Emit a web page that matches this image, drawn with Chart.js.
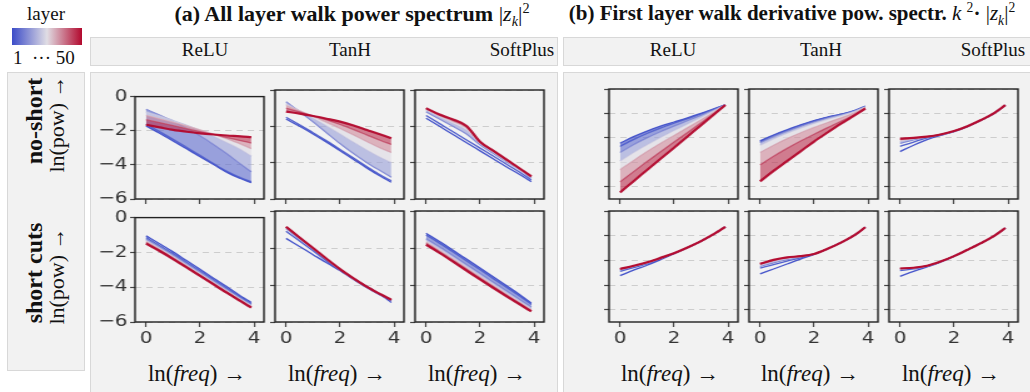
<!DOCTYPE html>
<html>
<head>
<meta charset="utf-8">
<script src="https://cdn.jsdelivr.net/npm/chart.js@4.4.1/dist/chart.umd.min.js"></script>
<style>
  body { margin: 0; background: #fff; }
  #fig { position: relative; width: 1030px; height: 392px; overflow: hidden; font-family: "Liberation Serif", "Times New Roman", serif; color: #111; }
  .box { position: absolute; background: #f2f2f2; border: 1px solid #d8d8d8; box-sizing: border-box; }
  .txt { position: absolute; white-space: nowrap; line-height: 1; }
  .ctr { transform: translateX(-50%); }
  .rot { transform: translate(-50%, -50%) rotate(-90deg); }
  sub, sup { font-size: 65%; line-height: 0; }
  canvas { position: absolute; }
</style>
</head>
<body>
<div id="fig">
  <div class="txt ctr" style="left:46px; top:4px; font-size:19px;">layer</div>
  <div style="position:absolute; left:12px; top:28px; width:70px; height:17px; background:linear-gradient(to right, rgb(60,76,200), rgb(224,221,228), rgb(178,8,45));"></div>
  <div class="txt" style="left:13px; top:48px; font-size:19px;">1 &nbsp;··· 50</div>

  <div class="txt ctr" style="left:352px; top:3px; font-size:22px;"><b>(a) All layer walk power spectrum</b> |<i>z<sub>k</sub></i>|<sup>2</sup></div>
  <div class="txt ctr" style="left:792px; top:3px; font-size:21px;"><b>(b) First layer walk derivative pow. spectr.</b> <i>k</i> <sup>2</sup><b>·</b> |<i>z<sub>k</sub></i>|<sup>2</sup></div>

  <div class="box" style="left:90px; top:37px; width:468px; height:29px;"></div>
  <div class="box" style="left:563px; top:37px; width:470px; height:29px;"></div>
  <div class="box" style="left:90px; top:72px; width:468px; height:330px;"></div>
  <div class="box" style="left:563px; top:72px; width:470px; height:330px;"></div>
  <div class="box" style="left:7px; top:72px; width:78px; height:299px;"></div>

  <div id="labels"></div>
</div>
<script>
// ln(freq) sample positions shared by every curve
const lnFreq = [0, 0.5, 1, 1.5, 2, 2.5, 3, 3.5, 3.9];
// layers drawn (1 ... 50)
const layerIds = [1, 3, 10, 20, 30, 40, 50];
const activations = ['ReLU', 'TanH', 'SoftPlus'];
const rowNames = ['no-short', 'short cuts'];
const xTicks = [0, 2, 4];
const yTicksPow = [0, -2, -4, -6];
const yTicksDeriv = [0, -1, -2, -3, -4];

// (a) power spectrum, no short cuts; one row per layer in layerIds
const powNoShortReLU = [
  [-1.72, -2.15, -2.60, -3.06, -3.52, -3.98, -4.44, -4.80, -5.05],
  [-1.60, -2.05, -2.50, -2.97, -3.44, -3.92, -4.38, -4.75, -4.98],
  [-0.75, -1.08, -1.45, -1.85, -2.30, -2.80, -3.35, -3.95, -4.40],
  [-0.90, -1.13, -1.40, -1.68, -1.98, -2.32, -2.70, -3.10, -3.50],
  [-1.10, -1.30, -1.50, -1.72, -1.95, -2.20, -2.48, -2.78, -3.05],
  [-1.35, -1.52, -1.70, -1.88, -2.05, -2.22, -2.40, -2.58, -2.72],
  [-1.65, -1.80, -1.95, -2.06, -2.15, -2.22, -2.28, -2.33, -2.38]
];
const powNoShortTanH = [
  [-1.60, -2.00, -2.42, -2.87, -3.34, -3.82, -4.30, -4.75, -5.08],
  [-1.50, -1.92, -2.35, -2.80, -3.27, -3.75, -4.22, -4.68, -5.00],
  [-0.65, -1.20, -1.75, -2.35, -2.95, -3.50, -4.00, -4.45, -4.80],
  [-0.75, -1.15, -1.55, -1.98, -2.42, -2.88, -3.32, -3.72, -4.00],
  [-0.85, -1.15, -1.45, -1.78, -2.12, -2.48, -2.85, -3.20, -3.45],
  [-1.00, -1.20, -1.42, -1.65, -1.90, -2.18, -2.48, -2.78, -3.00],
  [-1.19, -1.30, -1.43, -1.58, -1.74, -1.95, -2.20, -2.45, -2.66]
];
const powNoShortSoftPlus = [
  [-1.55, -2.00, -2.45, -2.90, -3.35, -3.80, -4.25, -4.68, -5.05],
  [-1.40, -1.85, -2.30, -2.75, -3.20, -3.65, -4.10, -4.55, -4.95],
  [-1.20, -1.60, -2.00, -2.42, -3.02, -3.50, -3.97, -4.42, -4.85],
  [-1.10, -1.48, -1.85, -2.22, -2.93, -3.42, -3.92, -4.39, -4.80],
  [-1.05, -1.42, -1.74, -2.10, -2.89, -3.38, -3.89, -4.37, -4.78],
  [-1.02, -1.38, -1.67, -2.03, -2.86, -3.36, -3.87, -4.36, -4.76],
  [-1.00, -1.35, -1.62, -1.98, -2.85, -3.35, -3.85, -4.35, -4.75]
];
// (a) power spectrum, with short cuts
const powShortReLU = [
  [-1.05, -1.50, -1.97, -2.47, -2.97, -3.48, -3.98, -4.50, -4.88],
  [-1.15, -1.60, -2.07, -2.56, -3.06, -3.56, -4.06, -4.56, -4.95],
  [-1.25, -1.70, -2.17, -2.66, -3.16, -3.66, -4.16, -4.64, -5.00],
  [-1.32, -1.76, -2.23, -2.72, -3.22, -3.72, -4.21, -4.69, -5.06],
  [-1.38, -1.82, -2.28, -2.77, -3.27, -3.76, -4.25, -4.73, -5.10],
  [-1.44, -1.87, -2.33, -2.82, -3.31, -3.80, -4.29, -4.77, -5.14],
  [-1.50, -1.92, -2.38, -2.86, -3.35, -3.84, -4.33, -4.80, -5.18]
];
const powShortTanH = [
  [-1.48, -1.92, -2.36, -2.80, -3.22, -3.65, -4.08, -4.52, -4.95],
  [-1.10, -1.62, -2.15, -2.70, -3.22, -3.70, -4.15, -4.55, -4.85],
  [-0.95, -1.50, -2.06, -2.63, -3.18, -3.67, -4.12, -4.52, -4.82],
  [-0.90, -1.46, -2.03, -2.61, -3.16, -3.66, -4.11, -4.51, -4.81],
  [-0.88, -1.45, -2.02, -2.60, -3.15, -3.65, -4.10, -4.50, -4.80],
  [-0.86, -1.44, -2.01, -2.59, -3.15, -3.65, -4.10, -4.50, -4.80],
  [-0.85, -1.43, -2.00, -2.58, -3.14, -3.64, -4.10, -4.50, -4.80]
];
const powShortSoftPlus = [
  [-1.20, -1.65, -2.12, -2.60, -3.08, -3.57, -4.06, -4.55, -4.98],
  [-1.30, -1.75, -2.22, -2.70, -3.18, -3.67, -4.15, -4.63, -5.05],
  [-1.50, -1.95, -2.42, -2.90, -3.38, -3.86, -4.34, -4.82, -5.20],
  [-1.60, -2.05, -2.52, -3.00, -3.48, -3.96, -4.44, -4.90, -5.28],
  [-1.68, -2.13, -2.60, -3.08, -3.56, -4.04, -4.51, -4.97, -5.34],
  [-1.75, -2.20, -2.67, -3.15, -3.63, -4.10, -4.57, -5.02, -5.39],
  [-1.82, -2.27, -2.74, -3.22, -3.70, -4.17, -4.63, -5.08, -5.43]
];
// (b) derivative power spectrum, no short cuts
const derivNoShortReLU = [
  [-2.22, -1.95, -1.72, -1.52, -1.35, -1.18, -1.00, -0.80, -0.65],
  [-2.35, -2.07, -1.82, -1.60, -1.40, -1.21, -1.02, -0.81, -0.65],
  [-2.60, -2.28, -2.00, -1.75, -1.52, -1.30, -1.08, -0.85, -0.66],
  [-2.95, -2.60, -2.28, -1.98, -1.70, -1.43, -1.16, -0.88, -0.66],
  [-3.30, -2.92, -2.56, -2.22, -1.90, -1.58, -1.26, -0.93, -0.66],
  [-3.80, -3.38, -2.97, -2.57, -2.17, -1.78, -1.38, -0.98, -0.65],
  [-4.23, -3.77, -3.31, -2.85, -2.40, -1.94, -1.48, -1.02, -0.65]
];
const derivNoShortTanH = [
  [-2.12, -1.88, -1.67, -1.47, -1.29, -1.15, -1.03, -0.88, -0.70],
  [-2.15, -1.91, -1.69, -1.49, -1.31, -1.16, -1.04, -0.88, -0.71],
  [-2.20, -1.95, -1.73, -1.53, -1.35, -1.19, -1.06, -0.90, -0.72],
  [-2.30, -2.04, -1.81, -1.60, -1.41, -1.24, -1.09, -0.92, -0.73],
  [-2.60, -2.30, -2.03, -1.79, -1.57, -1.37, -1.18, -0.97, -0.75],
  [-3.10, -2.75, -2.43, -2.13, -1.85, -1.58, -1.32, -1.04, -0.78],
  [-3.78, -3.35, -2.95, -2.55, -2.15, -1.78, -1.42, -1.08, -0.80]
];
const derivNoShortSoftPlus = [
  [-2.56, -2.30, -2.07, -1.90, -1.74, -1.54, -1.28, -0.99, -0.66],
  [-2.35, -2.17, -2.00, -1.88, -1.73, -1.53, -1.28, -0.98, -0.66],
  [-2.22, -2.08, -1.97, -1.87, -1.72, -1.52, -1.27, -0.98, -0.66],
  [-2.15, -2.04, -1.96, -1.87, -1.72, -1.52, -1.27, -0.98, -0.66],
  [-2.10, -2.02, -1.95, -1.86, -1.72, -1.52, -1.27, -0.98, -0.66],
  [-2.06, -2.01, -1.95, -1.86, -1.72, -1.52, -1.27, -0.98, -0.66],
  [-2.03, -2.00, -1.95, -1.86, -1.72, -1.52, -1.27, -0.98, -0.66]
];
// (b) derivative power spectrum, with short cuts
const derivShortReLU = [
  [-2.62, -2.40, -2.20, -1.97, -1.73, -1.49, -1.22, -0.92, -0.64],
  [-2.45, -2.30, -2.14, -1.94, -1.72, -1.48, -1.22, -0.92, -0.64],
  [-2.40, -2.26, -2.11, -1.92, -1.71, -1.48, -1.22, -0.92, -0.64],
  [-2.38, -2.24, -2.10, -1.91, -1.71, -1.48, -1.22, -0.92, -0.64],
  [-2.37, -2.23, -2.09, -1.91, -1.71, -1.48, -1.22, -0.92, -0.64],
  [-2.36, -2.23, -2.09, -1.90, -1.71, -1.48, -1.22, -0.92, -0.64],
  [-2.35, -2.22, -2.08, -1.90, -1.71, -1.48, -1.22, -0.92, -0.64]
];
const derivShortTanH = [
  [-2.55, -2.35, -2.15, -1.95, -1.76, -1.54, -1.28, -0.98, -0.66],
  [-2.32, -2.17, -2.03, -1.90, -1.75, -1.53, -1.28, -0.98, -0.66],
  [-2.25, -2.10, -1.97, -1.87, -1.75, -1.53, -1.28, -0.98, -0.66],
  [-2.20, -2.04, -1.93, -1.85, -1.74, -1.53, -1.28, -0.98, -0.66],
  [-2.17, -2.01, -1.90, -1.84, -1.74, -1.53, -1.28, -0.98, -0.66],
  [-2.15, -1.99, -1.89, -1.83, -1.74, -1.53, -1.28, -0.98, -0.66],
  [-2.14, -1.98, -1.88, -1.83, -1.74, -1.53, -1.28, -0.98, -0.66]
];
const derivShortSoftPlus = [
  [-2.65, -2.45, -2.27, -2.07, -1.84, -1.57, -1.30, -1.00, -0.69],
  [-2.42, -2.35, -2.25, -2.06, -1.83, -1.57, -1.30, -1.00, -0.69],
  [-2.36, -2.32, -2.23, -2.05, -1.83, -1.57, -1.30, -1.00, -0.69],
  [-2.35, -2.31, -2.22, -2.05, -1.83, -1.57, -1.30, -1.00, -0.69],
  [-2.34, -2.30, -2.22, -2.05, -1.83, -1.57, -1.30, -1.00, -0.69],
  [-2.33, -2.30, -2.22, -2.05, -1.83, -1.57, -1.30, -1.00, -0.69],
  [-2.33, -2.30, -2.22, -2.05, -1.83, -1.57, -1.30, -1.00, -0.69]
];

// the panel pictures in the reference are stretched sideways
const S = 1.25;
const fig = document.getElementById('fig');

const panels = [
  {data: powNoShortReLU, l: 135, t: 90, h: 109, row: 0, grp: 'a', fillFrom: 1, yLabels: true},
  {data: powNoShortTanH, l: 275, t: 90, h: 109, row: 0, grp: 'a', fillFrom: 3},
  {data: powNoShortSoftPlus, l: 415, t: 90, h: 109, row: 0, grp: 'a', fillFrom: 3},
  {data: derivNoShortReLU, l: 609, t: 89, h: 110, row: 0, grp: 'b', fillFrom: 1},
  {data: derivNoShortTanH, l: 749, t: 89, h: 110, row: 0, grp: 'b', fillFrom: 1},
  {data: derivNoShortSoftPlus, l: 889, t: 89, h: 110, row: 0, grp: 'b', fillFrom: 3},
  {data: powShortReLU, l: 135, t: 211, h: 111, row: 1, grp: 'a', fillFrom: 2, yLabels: true},
  {data: powShortTanH, l: 275, t: 211, h: 111, row: 1, grp: 'a', fillFrom: 3},
  {data: powShortSoftPlus, l: 415, t: 211, h: 111, row: 1, grp: 'a', fillFrom: 1},
  {data: derivShortReLU, l: 609, t: 211, h: 111, row: 1, grp: 'b', fillFrom: 3},
  {data: derivShortTanH, l: 749, t: 211, h: 111, row: 1, grp: 'b', fillFrom: 3},
  {data: derivShortSoftPlus, l: 889, t: 211, h: 111, row: 1, grp: 'b', fillFrom: 3}
];

function layerColor(layer, a) {
  const t = (layer - 1) / 49;
  const lo = [60, 76, 200], mid = [224, 221, 228], hi = [178, 8, 45];
  const c = t < 0.5
    ? lo.map((v, i) => v + (mid[i] - v) * t * 2)
    : mid.map((v, i) => v + (hi[i] - v) * (t - 0.5) * 2);
  return 'rgba(' + c.map(Math.round).join(',') + ',' + a + ')';
}

const framePlugin = {
  id: 'frame',
  afterDatasetsDraw(chart) {
    const {ctx, chartArea: a} = chart;
    ctx.save();
    ctx.strokeStyle = '#222';
    ctx.lineWidth = 1.4;
    ctx.strokeRect(a.left, a.top, a.right - a.left, a.bottom - a.top);
    ctx.restore();
  }
};

Chart.defaults.font.family = '"DejaVu Sans", sans-serif';

function makePanel(p) {
  const w = 129;
  const cw = Math.round((w + 45) / S);
  const ch = p.h + 5 + 30;
  const cv = document.createElement('canvas');
  cv.width = cw;
  cv.height = ch;
  cv.style.width = (cw * S) + 'px';
  cv.style.height = ch + 'px';
  cv.style.left = (p.l - 40) + 'px';
  cv.style.top = (p.t - 5) + 'px';
  fig.appendChild(cv);

  const yTicks = p.grp === 'a' ? yTicksPow : yTicksDeriv;
  const datasets = layerIds.map((L, i) => ({
    data: lnFreq.map((x, j) => ({x: x, y: p.data[i][j]})),
    borderColor: layerColor(L, 0.95),
    backgroundColor: i > 0 ? layerColor((L + layerIds[i - 1]) / 2, 0.62) : 'transparent',
    borderWidth: L === 50 ? 2.2 : 1.3,
    fill: i >= p.fillFrom ? '-1' : false,
    order: layerIds.length - i,
    pointRadius: 0,
    cubicInterpolationMode: 'monotone'
  }));

  new Chart(cv, {
    type: 'line',
    data: {datasets: datasets},
    plugins: [framePlugin],
    options: {
      responsive: false,
      animation: false,
      events: [],
      layout: {padding: {top: 5, right: 5 / S, left: 0, bottom: 0}},
      plugins: {legend: {display: false}, tooltip: {enabled: false}},
      scales: {
        x: {
          type: 'linear',
          min: -11 / 27,
          max: 118 / 27,
          afterBuildTicks: s => { s.ticks = xTicks.map(v => ({value: v})); },
          afterFit: s => { s.height = 30; },
          grid: {drawOnChartArea: false, tickLength: 5, tickColor: '#444', tickWidth: 1.2},
          border: {display: false},
          ticks: {display: p.row === 1, font: {size: 16}, color: '#333', padding: 2, maxRotation: 0}
        },
        y: {
          type: 'linear',
          min: p.grp === 'a' ? -6 : -4.5,
          max: 0,
          afterBuildTicks: s => { s.ticks = yTicks.map(v => ({value: v})); },
          afterFit: s => { s.width = 40 / S; },
          grid: {color: '#cdcdcd', lineWidth: 1, tickLength: 4, tickColor: '#444', tickWidth: 1.2, tickBorderDash: []},
          border: {display: false, dash: [5, 4]},
          ticks: {
            display: !!p.yLabels, font: {size: 16}, color: '#333', padding: 2,
            callback: v => String(v).replace('-', '\u2212')
          }
        }
      }
    }
  });
}

panels.forEach(makePanel);

// strip labels, axis labels, row labels
const labels = document.getElementById('labels');
function addText(html, css, cls) {
  const d = document.createElement('div');
  d.className = 'txt ' + (cls || 'ctr');
  d.style.cssText = css;
  d.innerHTML = html;
  labels.appendChild(d);
}
const stripA = [205, 350, 522], stripB = [673, 821, 993];
activations.forEach((name, i) => {
  addText(name, 'left:' + stripA[i] + 'px; top:40px; font-size:19px;');
  addText(name, 'left:' + stripB[i] + 'px; top:40px; font-size:19px;');
});
const xLab = [197, 337, 477, 670, 810, 951];
xLab.forEach(x => addText('ln(<i>freq</i>) \u2192', 'left:' + x + 'px; top:362px; font-size:23px;'));
const rowY = [121, 273];
rowNames.forEach((name, i) => {
  addText('<b>' + name + '</b>', 'left:34px; top:' + rowY[i] + 'px; font-size:24px;', 'rot');
  addText('ln(pow) \u2192', 'left:57px; top:' + (rowY[i] + 3) + 'px; font-size:22px;', 'rot');
});
</script>
</body>
</html>
